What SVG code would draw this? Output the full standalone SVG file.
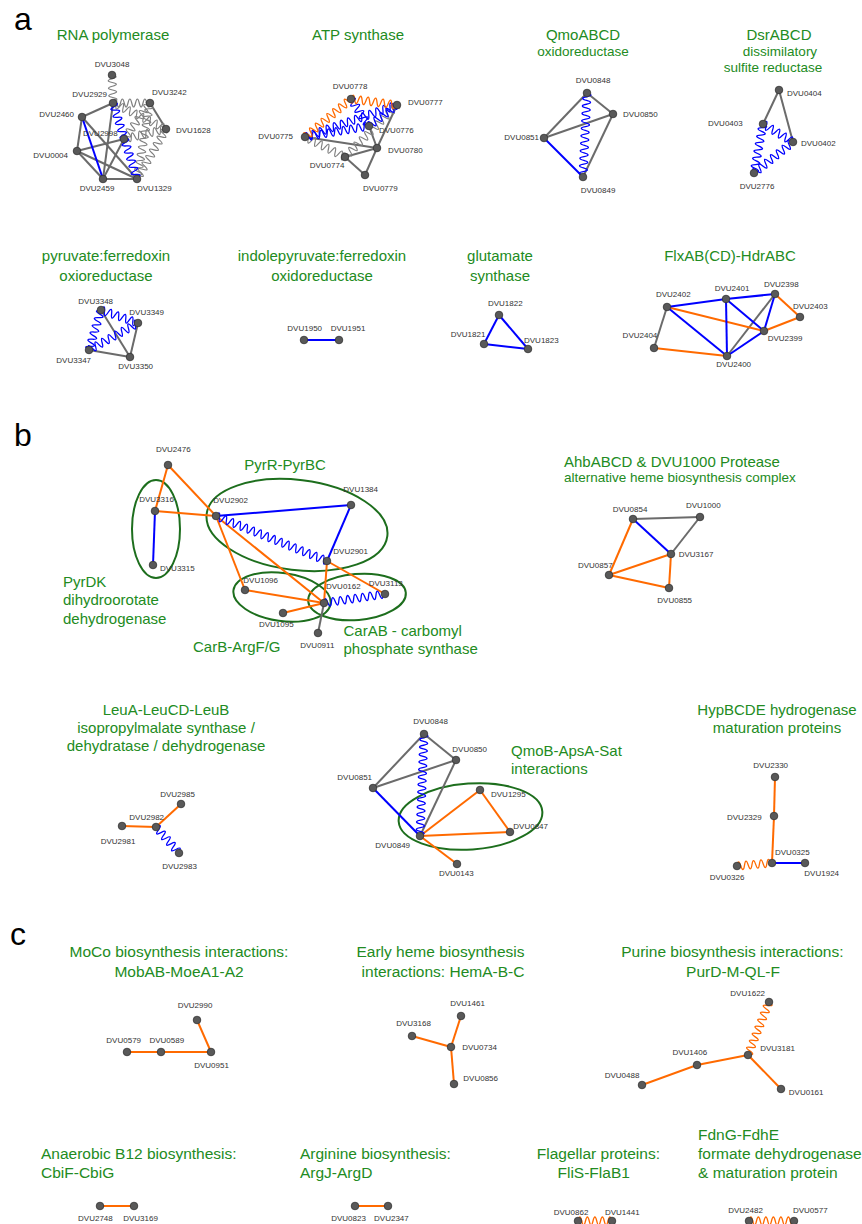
<svg xmlns="http://www.w3.org/2000/svg" width="862" height="1224" viewBox="0 0 862 1224">
<style>
text{font-family:"Liberation Sans",Arial,sans-serif}
.sec{font-size:32px;fill:#000}
.t{font-size:15px;fill:#228b22}
.ts{font-size:13.5px}
.tc{font-size:15.5px}
.l{font-size:8px;fill:#333}
.m{text-anchor:middle}
.e{text-anchor:end}
.n circle{fill:#595959;stroke:#333;stroke-width:0.8}
.eg{stroke:#6b6b6b;stroke-width:2}
.eb{stroke:#0000ff;stroke-width:2}
.eo{stroke:#ff6a00;stroke-width:2}
.wg{stroke:#808080;stroke-width:1.2;fill:none}
.wb{stroke:#0000ff;stroke-width:1.3;fill:none}
.wo{stroke:#ff6a00;stroke-width:1.3;fill:none}
.el{fill:none;stroke:#1d6e1d;stroke-width:2}
</style>
<defs>
<path id="w7" fill="none" d="M0,0q1.875,-8 3.75,0t3.75,0t3.75,0t3.75,0t3.75,0t3.75,0t3.75,0"/>
<path id="w9" fill="none" d="M0,0q1.875,-8 3.75,0t3.75,0t3.75,0t3.75,0t3.75,0t3.75,0t3.75,0t3.75,0t3.75,0"/>
<path id="w10" fill="none" d="M0,0q1.875,-8 3.75,0t3.75,0t3.75,0t3.75,0t3.75,0t3.75,0t3.75,0t3.75,0t3.75,0t3.75,0"/>
<path id="w11" fill="none" d="M0,0q1.875,-8 3.75,0t3.75,0t3.75,0t3.75,0t3.75,0t3.75,0t3.75,0t3.75,0t3.75,0t3.75,0t3.75,0"/>
<path id="w12" fill="none" d="M0,0q1.875,-8 3.75,0t3.75,0t3.75,0t3.75,0t3.75,0t3.75,0t3.75,0t3.75,0t3.75,0t3.75,0t3.75,0t3.75,0"/>
<path id="w13" fill="none" d="M0,0q1.875,-8 3.75,0t3.75,0t3.75,0t3.75,0t3.75,0t3.75,0t3.75,0t3.75,0t3.75,0t3.75,0t3.75,0t3.75,0t3.75,0"/>
<path id="w15" fill="none" d="M0,0q1.875,-8 3.75,0t3.75,0t3.75,0t3.75,0t3.75,0t3.75,0t3.75,0t3.75,0t3.75,0t3.75,0t3.75,0t3.75,0t3.75,0t3.75,0t3.75,0"/>
<path id="w16" fill="none" d="M0,0q1.875,-8 3.75,0t3.75,0t3.75,0t3.75,0t3.75,0t3.75,0t3.75,0t3.75,0t3.75,0t3.75,0t3.75,0t3.75,0t3.75,0t3.75,0t3.75,0t3.75,0"/>
<path id="w17" fill="none" d="M0,0q1.875,-8 3.75,0t3.75,0t3.75,0t3.75,0t3.75,0t3.75,0t3.75,0t3.75,0t3.75,0t3.75,0t3.75,0t3.75,0t3.75,0t3.75,0t3.75,0t3.75,0t3.75,0"/>
<path id="w20" fill="none" d="M0,0q1.875,-8 3.75,0t3.75,0t3.75,0t3.75,0t3.75,0t3.75,0t3.75,0t3.75,0t3.75,0t3.75,0t3.75,0t3.75,0t3.75,0t3.75,0t3.75,0t3.75,0t3.75,0t3.75,0t3.75,0t3.75,0"/>
<path id="w21" fill="none" d="M0,0q1.875,-8 3.75,0t3.75,0t3.75,0t3.75,0t3.75,0t3.75,0t3.75,0t3.75,0t3.75,0t3.75,0t3.75,0t3.75,0t3.75,0t3.75,0t3.75,0t3.75,0t3.75,0t3.75,0t3.75,0t3.75,0t3.75,0"/>
<path id="w22" fill="none" d="M0,0q1.875,-8 3.75,0t3.75,0t3.75,0t3.75,0t3.75,0t3.75,0t3.75,0t3.75,0t3.75,0t3.75,0t3.75,0t3.75,0t3.75,0t3.75,0t3.75,0t3.75,0t3.75,0t3.75,0t3.75,0t3.75,0t3.75,0t3.75,0"/>
<path id="w26" fill="none" d="M0,0q1.875,-8 3.75,0t3.75,0t3.75,0t3.75,0t3.75,0t3.75,0t3.75,0t3.75,0t3.75,0t3.75,0t3.75,0t3.75,0t3.75,0t3.75,0t3.75,0t3.75,0t3.75,0t3.75,0t3.75,0t3.75,0t3.75,0t3.75,0t3.75,0t3.75,0t3.75,0t3.75,0"/>
<path id="w27" fill="none" d="M0,0q1.875,-8 3.75,0t3.75,0t3.75,0t3.75,0t3.75,0t3.75,0t3.75,0t3.75,0t3.75,0t3.75,0t3.75,0t3.75,0t3.75,0t3.75,0t3.75,0t3.75,0t3.75,0t3.75,0t3.75,0t3.75,0t3.75,0t3.75,0t3.75,0t3.75,0t3.75,0t3.75,0t3.75,0"/>
<path id="w32" fill="none" d="M0,0q1.875,-8 3.75,0t3.75,0t3.75,0t3.75,0t3.75,0t3.75,0t3.75,0t3.75,0t3.75,0t3.75,0t3.75,0t3.75,0t3.75,0t3.75,0t3.75,0t3.75,0t3.75,0t3.75,0t3.75,0t3.75,0t3.75,0t3.75,0t3.75,0t3.75,0t3.75,0t3.75,0t3.75,0t3.75,0t3.75,0t3.75,0t3.75,0t3.75,0"/>
</defs>
<rect width="862" height="1224" fill="#fff"/>

<g id="titles">
<text class="sec" x="14" y="30">a</text>
<text class="sec" x="14" y="446">b</text>
<text class="sec" x="10" y="945">c</text>
<text class="t m" x="113" y="39.5">RNA polymerase</text>
<text class="t m" x="358" y="39.5">ATP synthase</text>
<text class="t m" x="583" y="39.5">QmoABCD</text>
<text class="t ts m" x="583" y="56">oxidoreductase</text>
<text class="t m" x="779" y="39.5">DsrABCD</text>
<text class="t ts m" x="780" y="56">dissimilatory</text>
<text class="t ts m" x="773" y="72">sulfite reductase</text>
<text class="t m" x="106" y="261">pyruvate:ferredoxin</text>
<text class="t m" x="106" y="280.5">oxioreductase</text>
<text class="t m" x="322" y="261">indolepyruvate:ferredoxin</text>
<text class="t m" x="322" y="280.5">oxidoreductase</text>
<text class="t m" x="500" y="261">glutamate</text>
<text class="t m" x="500" y="280.5">synthase</text>
<text class="t m" x="730" y="261">FlxAB(CD)-HdrABC</text>
<text class="t m" x="285" y="469.5">PyrR-PyrBC</text>
<text class="t" x="63" y="586.5">PyrDK</text>
<text class="t" x="63" y="605">dihydroorotate</text>
<text class="t" x="63" y="623.5">dehydrogenase</text>
<text class="t" x="193" y="651.5">CarB-ArgF/G</text>
<text class="t" x="343.5" y="636">CarAB - carbomyl</text>
<text class="t" x="343.5" y="654">phosphate synthase</text>
<text class="t" x="564" y="466.5">AhbABCD &amp; DVU1000 Protease</text>
<text class="t ts" x="564" y="482">alternative heme biosynthesis complex</text>
<text class="t m" x="166" y="715">LeuA-LeuCD-LeuB</text>
<text class="t m" x="166" y="732.5">isopropylmalate synthase /</text>
<text class="t m" x="166" y="750.5">dehydratase / dehydrogenase</text>
<text class="t" x="511" y="756">QmoB-ApsA-Sat</text>
<text class="t" x="511" y="773.5">interactions</text>
<text class="t m" x="777" y="715">HypBCDE hydrogenase</text>
<text class="t m" x="777" y="732.5">maturation proteins</text>
<text class="t tc m" x="179" y="957">MoCo biosynthesis interactions:</text>
<text class="t tc m" x="179" y="976.5">MobAB-MoeA1-A2</text>
<text class="t tc m" x="440.5" y="957">Early heme biosynthesis</text>
<text class="t tc m" x="443" y="976.5">interactions: HemA-B-C</text>
<text class="t tc m" x="732.4" y="957">Purine biosynthesis interactions:</text>
<text class="t tc m" x="733" y="976.5">PurD-M-QL-F</text>
<text class="t tc" x="41" y="1159">Anaerobic B12 biosynthesis:</text>
<text class="t tc" x="41" y="1177.5">CbiF-CbiG</text>
<text class="t tc" x="300" y="1159">Arginine biosynthesis:</text>
<text class="t tc" x="300" y="1177.5">ArgJ-ArgD</text>
<text class="t tc m" x="598.4" y="1159">Flagellar proteins:</text>
<text class="t tc m" x="593.7" y="1177.5">FliS-FlaB1</text>
<text class="t tc" x="698" y="1140">FdnG-FdhE</text>
<text class="t tc" x="698" y="1159">formate dehydrogenase</text>
<text class="t tc" x="698" y="1177.5">&amp; maturation protein</text>
</g>

<g id="groupings">
<ellipse class="el" cx="156" cy="529" rx="24" ry="49"/>
<ellipse class="el" cx="297" cy="525" rx="91" ry="45" transform="rotate(7 297 525)"/>
<ellipse class="el" cx="282" cy="597" rx="49" ry="24" transform="rotate(8 282 597)"/>
<ellipse class="el" cx="357" cy="597" rx="49" ry="23" transform="rotate(-5 357 597)"/>
<ellipse class="el" cx="470.5" cy="816.5" rx="72" ry="33" transform="rotate(-4 470.5 816.5)"/>
</g>

<g id="connectors">
<!-- RNA polymerase -->
<line class="eg" x1="113" y1="103" x2="82" y2="117"/>
<line class="eg" x1="113" y1="103" x2="103" y2="179"/>
<line class="eg" x1="82" y1="117" x2="77" y2="151"/>
<line class="eg" x1="82" y1="117" x2="137" y2="179"/>
<line class="eg" x1="77" y1="151" x2="124" y2="139"/>
<line class="eg" x1="77" y1="151" x2="103" y2="179"/>
<line class="eg" x1="77" y1="151" x2="137" y2="179"/>
<line class="eg" x1="124" y1="139" x2="103" y2="179"/>
<line class="eg" x1="103" y1="179" x2="137" y2="179"/>
<line class="eg" x1="150" y1="103" x2="166" y2="129"/>
<line class="eb" x1="82" y1="117" x2="103" y2="179"/>
<use href="#w7" class="wg" transform="translate(112,75) rotate(87.95)"/>
<use href="#w10" class="wg" transform="translate(113,103)"/>
<use href="#w16" class="wg" transform="translate(113,103) rotate(26.13)"/>
<use href="#w12" class="wg" transform="translate(124,139) rotate(-54.16)"/>
<use href="#w12" class="wg" transform="translate(124,139) rotate(-13.39)"/>
<use href="#w21" class="wg" transform="translate(137,179) rotate(-80.29)"/>
<use href="#w15" class="wg" transform="translate(137,179) rotate(-59.89)"/>
<use href="#w21" class="wb" transform="translate(113,103) rotate(72.47)"/>
<!-- ATP synthase -->
<line class="eg" x1="305" y1="137" x2="377" y2="148"/>
<line class="eg" x1="369" y1="126" x2="377" y2="148"/>
<line class="eg" x1="397" y1="105" x2="377" y2="148"/>
<line class="eg" x1="377" y1="148" x2="345" y2="157"/>
<line class="eg" x1="377" y1="148" x2="365" y2="175"/>
<line class="eg" x1="345" y1="157" x2="365" y2="175"/>
<use href="#w12" class="wg" transform="translate(305,137) rotate(26.57)"/>
<use href="#w20" class="wg" transform="translate(345,157) rotate(-45)"/>
<use href="#w26" class="wb" transform="translate(305,137) rotate(-19.18)"/>
<use href="#w17" class="wb" transform="translate(305,137) rotate(-9.75)"/>
<use href="#w9" class="wb" transform="translate(351,99) rotate(56.31)"/>
<use href="#w9" class="wb" transform="translate(369,126) rotate(-36.87)"/>
<use href="#w16" class="wo" transform="translate(305,137) rotate(-39.56)"/>
<use href="#w12" class="wo" transform="translate(351,99) rotate(7.43)"/>
<!-- QmoABCD -->
<line class="eg" x1="587" y1="93" x2="544" y2="138"/>
<line class="eg" x1="587" y1="93" x2="613" y2="114"/>
<line class="eg" x1="544" y1="138" x2="613" y2="114"/>
<line class="eg" x1="613" y1="114" x2="583" y2="177"/>
<line class="eb" x1="544" y1="138" x2="583" y2="177"/>
<use href="#w22" class="wb" transform="translate(587,93) rotate(92.73)"/>
<!-- DsrABCD -->
<line class="eg" x1="779" y1="90" x2="763" y2="124"/>
<line class="eg" x1="779" y1="90" x2="793" y2="142"/>
<use href="#w9" class="wb" transform="translate(763,124) rotate(30.96)"/>
<use href="#w13" class="wb" transform="translate(763,124) rotate(100.41)"/>
<use href="#w13" class="wb" transform="translate(754,173) rotate(-38.48)"/>
<!-- pyruvate:ferredoxin -->
<line class="eg" x1="101" y1="310" x2="130" y2="357"/>
<line class="eg" x1="138" y1="323" x2="130" y2="357"/>
<line class="eg" x1="89" y1="350" x2="130" y2="357"/>
<use href="#w10" class="wb" transform="translate(101,310) rotate(19.36)"/>
<use href="#w11" class="wb" transform="translate(89,350) rotate(-73.3)"/>
<use href="#w15" class="wb" transform="translate(89,350) rotate(-28.86)"/>
<!-- indolepyruvate -->
<line class="eb" x1="304" y1="340" x2="339" y2="340"/>
<!-- glutamate synthase -->
<line class="eb" x1="499" y1="315" x2="484" y2="344"/>
<line class="eb" x1="499" y1="315" x2="528" y2="349"/>
<line class="eb" x1="484" y1="344" x2="528" y2="349"/>
<!-- Flx-Hdr -->
<line class="eg" x1="667" y1="307" x2="654" y2="348"/>
<line class="eg" x1="775" y1="294" x2="727" y2="356"/>
<line class="eo" x1="667" y1="307" x2="764" y2="331"/>
<line class="eo" x1="775" y1="294" x2="800" y2="317"/>
<line class="eo" x1="800" y1="317" x2="764" y2="331"/>
<line class="eo" x1="654" y1="348" x2="727" y2="356"/>
<line class="eb" x1="667" y1="307" x2="726" y2="299"/>
<line class="eb" x1="726" y1="299" x2="775" y2="294"/>
<line class="eb" x1="667" y1="307" x2="727" y2="356"/>
<line class="eb" x1="726" y1="299" x2="727" y2="356"/>
<line class="eb" x1="726" y1="299" x2="764" y2="331"/>
<line class="eb" x1="775" y1="294" x2="764" y2="331"/>
<line class="eb" x1="764" y1="331" x2="727" y2="356"/>
<!-- Pyr / Car -->
<line class="eo" x1="168" y1="465" x2="155" y2="511"/>
<line class="eo" x1="168" y1="465" x2="216" y2="516"/>
<line class="eo" x1="155" y1="511" x2="216" y2="516"/>
<line class="eo" x1="216" y1="516" x2="245" y2="590"/>
<line class="eo" x1="216" y1="516" x2="324" y2="603"/>
<line class="eo" x1="245" y1="590" x2="324" y2="603"/>
<line class="eo" x1="283" y1="613" x2="324" y2="603"/>
<line class="eo" x1="327" y1="561" x2="324" y2="603"/>
<line class="eo" x1="327" y1="561" x2="385" y2="594"/>
<line class="eb" x1="155" y1="511" x2="153" y2="565"/>
<line class="eb" x1="216" y1="516" x2="351" y2="505"/>
<line class="eb" x1="351" y1="505" x2="327" y2="561"/>
<line class="eg" x1="324" y1="603" x2="318" y2="633"/>
<use href="#w32" class="wb" transform="translate(216,516) rotate(22.07)"/>
<use href="#w16" class="wb" transform="translate(324,603) rotate(-8.39)"/>
<!-- Ahb -->
<line class="eg" x1="633" y1="519" x2="700" y2="517"/>
<line class="eg" x1="700" y1="517" x2="671" y2="554"/>
<line class="eb" x1="633" y1="519" x2="671" y2="554"/>
<line class="eo" x1="633" y1="519" x2="609" y2="575"/>
<line class="eo" x1="609" y1="575" x2="671" y2="554"/>
<line class="eo" x1="609" y1="575" x2="669" y2="588"/>
<line class="eo" x1="671" y1="554" x2="669" y2="588"/>
<!-- Leu -->
<line class="eo" x1="156" y1="827" x2="181" y2="804"/>
<line class="eo" x1="122" y1="826" x2="156" y2="827"/>
<use href="#w9" class="wb" transform="translate(156,827) rotate(48.5)"/>
<!-- QmoB-ApsA-Sat -->
<line class="eg" x1="424" y1="734" x2="373" y2="788"/>
<line class="eg" x1="424" y1="734" x2="456" y2="760"/>
<line class="eg" x1="373" y1="788" x2="456" y2="760"/>
<line class="eg" x1="456" y1="760" x2="420" y2="836"/>
<line class="eb" x1="373" y1="788" x2="420" y2="836"/>
<line class="eo" x1="420" y1="836" x2="480" y2="790"/>
<line class="eo" x1="480" y1="790" x2="510" y2="832"/>
<line class="eo" x1="420" y1="836" x2="510" y2="832"/>
<line class="eo" x1="420" y1="836" x2="457" y2="864"/>
<use href="#w27" class="wb" transform="translate(424,734) rotate(92.25)"/>
<!-- Hyp -->
<line class="eo" x1="775" y1="777" x2="774" y2="816"/>
<line class="eo" x1="774" y1="816" x2="772" y2="863"/>
<line class="eb" x1="772" y1="863" x2="805" y2="863"/>
<use href="#w9" class="wo" transform="translate(737,866) rotate(-4.9)"/>
<!-- MoCo -->
<line class="eo" x1="127" y1="1052" x2="161" y2="1052" stroke-width="2.5"/>
<line class="eo" x1="161" y1="1052" x2="211" y2="1052" stroke-width="2.5"/>
<line class="eo" x1="197" y1="1020" x2="211" y2="1052"/>
<!-- Heme -->
<line class="eo" x1="461" y1="1016" x2="451" y2="1047"/>
<line class="eo" x1="412" y1="1036" x2="451" y2="1047"/>
<line class="eo" x1="451" y1="1047" x2="454" y2="1084"/>
<!-- Purine -->
<line class="eo" x1="748" y1="1055" x2="697" y2="1065"/>
<line class="eo" x1="697" y1="1065" x2="642" y2="1085"/>
<line class="eo" x1="748" y1="1055" x2="781" y2="1089"/>
<use href="#w15" class="wo" transform="translate(769,1002) rotate(111.6)"/>
<!-- row 2 of c -->
<line class="eo" x1="100" y1="1206" x2="134" y2="1206"/>
<line class="eo" x1="355" y1="1206" x2="388" y2="1206"/>
<use href="#w9" class="wo" transform="translate(578,1221)"/>
<use href="#w12" class="wo" transform="translate(749,1221)"/>
</g>

<g id="nodes">
<g id="rp-DVU3048" class="n"><circle cx="112" cy="75" r="3.8"/><text class="l m" x="112" y="67.3">DVU3048</text></g>
<g id="rp-DVU2929" class="n"><circle cx="113" cy="103" r="3.8"/><text class="l e" x="107" y="96.7">DVU2929</text></g>
<g id="rp-DVU3242" class="n"><circle cx="150" cy="103" r="3.8"/><text class="l" x="152" y="95">DVU3242</text></g>
<g id="rp-DVU2460" class="n"><circle cx="82" cy="117" r="3.8"/><text class="l e" x="74" y="117">DVU2460</text></g>
<g id="rp-DVU1628" class="n"><circle cx="166" cy="129" r="3.8"/><text class="l" x="176" y="132.7">DVU1628</text></g>
<g id="rp-DVU2998" class="n"><circle cx="124" cy="139" r="3.8"/><text class="l" x="83" y="136">DVU2998</text></g>
<g id="rp-DVU0004" class="n"><circle cx="77" cy="151" r="3.8"/><text class="l e" x="68" y="158">DVU0004</text></g>
<g id="rp-DVU2459" class="n"><circle cx="103" cy="179" r="3.8"/><text class="l m" x="97" y="190.5">DVU2459</text></g>
<g id="rp-DVU1329" class="n"><circle cx="137" cy="179" r="3.8"/><text class="l" x="137" y="190.5">DVU1329</text></g>

<g id="atp-DVU0778" class="n"><circle cx="351" cy="99" r="3.8"/><text class="l m" x="350" y="89">DVU0778</text></g>
<g id="atp-DVU0777" class="n"><circle cx="397" cy="105" r="3.8"/><text class="l" x="408" y="104.7">DVU0777</text></g>
<g id="atp-DVU0776" class="n"><circle cx="369" cy="126" r="3.8"/><text class="l" x="379" y="133">DVU0776</text></g>
<g id="atp-DVU0775" class="n"><circle cx="305" cy="137" r="3.8"/><text class="l e" x="293" y="139">DVU0775</text></g>
<g id="atp-DVU0780" class="n"><circle cx="377" cy="148" r="3.8"/><text class="l" x="388" y="152.7">DVU0780</text></g>
<g id="atp-DVU0774" class="n"><circle cx="345" cy="157" r="3.8"/><text class="l m" x="327" y="167.7">DVU0774</text></g>
<g id="atp-DVU0779" class="n"><circle cx="365" cy="175" r="3.8"/><text class="l" x="363" y="191">DVU0779</text></g>

<g id="qmo-DVU0848" class="n"><circle cx="587" cy="93" r="3.8"/><text class="l m" x="593" y="82.7">DVU0848</text></g>
<g id="qmo-DVU0850" class="n"><circle cx="613" cy="114" r="3.8"/><text class="l" x="623" y="116.7">DVU0850</text></g>
<g id="qmo-DVU0851" class="n"><circle cx="544" cy="138" r="3.8"/><text class="l e" x="539" y="140">DVU0851</text></g>
<g id="qmo-DVU0849" class="n"><circle cx="583" cy="177" r="3.8"/><text class="l m" x="598" y="193.3">DVU0849</text></g>

<g id="dsr-DVU0404" class="n"><circle cx="779" cy="90" r="3.8"/><text class="l" x="787" y="96">DVU0404</text></g>
<g id="dsr-DVU0403" class="n"><circle cx="763" cy="124" r="3.8"/><text class="l e" x="742.7" y="125.7">DVU0403</text></g>
<g id="dsr-DVU0402" class="n"><circle cx="793" cy="142" r="3.8"/><text class="l" x="801" y="145.7">DVU0402</text></g>
<g id="dsr-DVU2776" class="n"><circle cx="754" cy="173" r="3.8"/><text class="l m" x="757" y="189.3">DVU2776</text></g>

<g id="pfo-DVU3348" class="n"><circle cx="101" cy="310" r="3.8"/><text class="l m" x="95.7" y="303.7">DVU3348</text></g>
<g id="pfo-DVU3349" class="n"><circle cx="138" cy="323" r="3.8"/><text class="l" x="129.3" y="314.7">DVU3349</text></g>
<g id="pfo-DVU3347" class="n"><circle cx="89" cy="350" r="3.8"/><text class="l m" x="73.7" y="362.7">DVU3347</text></g>
<g id="pfo-DVU3350" class="n"><circle cx="130" cy="357" r="3.8"/><text class="l m" x="135.7" y="369.3">DVU3350</text></g>

<g id="ior-DVU1950" class="n"><circle cx="304" cy="340" r="3.8"/><text class="l m" x="304.7" y="331.3">DVU1950</text></g>
<g id="ior-DVU1951" class="n"><circle cx="339" cy="340" r="3.8"/><text class="l m" x="348" y="331.3">DVU1951</text></g>

<g id="glt-DVU1822" class="n"><circle cx="499" cy="315" r="3.8"/><text class="l m" x="505.3" y="305.7">DVU1822</text></g>
<g id="glt-DVU1821" class="n"><circle cx="484" cy="344" r="3.8"/><text class="l m" x="468" y="337.3">DVU1821</text></g>
<g id="glt-DVU1823" class="n"><circle cx="528" cy="349" r="3.8"/><text class="l" x="524" y="342.7">DVU1823</text></g>

<g id="flx-DVU2402" class="n"><circle cx="667" cy="307" r="3.8"/><text class="l m" x="673.3" y="297.3">DVU2402</text></g>
<g id="flx-DVU2401" class="n"><circle cx="726" cy="299" r="3.8"/><text class="l m" x="732" y="291">DVU2401</text></g>
<g id="flx-DVU2398" class="n"><circle cx="775" cy="294" r="3.8"/><text class="l m" x="781.3" y="287">DVU2398</text></g>
<g id="flx-DVU2403" class="n"><circle cx="800" cy="317" r="3.8"/><text class="l m" x="810.3" y="309">DVU2403</text></g>
<g id="flx-DVU2399" class="n"><circle cx="764" cy="331" r="3.8"/><text class="l" x="767.7" y="341">DVU2399</text></g>
<g id="flx-DVU2404" class="n"><circle cx="654" cy="348" r="3.8"/><text class="l e" x="657.3" y="338">DVU2404</text></g>
<g id="flx-DVU2400" class="n"><circle cx="727" cy="356" r="3.8"/><text class="l m" x="733.7" y="367.3">DVU2400</text></g>

<g id="pyr-DVU2476" class="n"><circle cx="168" cy="465" r="3.8"/><text class="l m" x="173.3" y="452">DVU2476</text></g>
<g id="pyr-DVU3316" class="n"><circle cx="155" cy="511" r="3.8"/><text class="l m" x="156.5" y="502">DVU3316</text></g>
<g id="pyr-DVU3315" class="n"><circle cx="153" cy="565" r="3.8"/><text class="l" x="160" y="571.3">DVU3315</text></g>
<g id="pyr-DVU2902" class="n"><circle cx="216" cy="516" r="3.8"/><text class="l" x="213.3" y="503">DVU2902</text></g>
<g id="pyr-DVU1384" class="n"><circle cx="351" cy="505" r="3.8"/><text class="l" x="343.3" y="492">DVU1384</text></g>
<g id="pyr-DVU2901" class="n"><circle cx="327" cy="561" r="3.8"/><text class="l" x="333.3" y="553.7">DVU2901</text></g>
<g id="pyr-DVU1096" class="n"><circle cx="245" cy="590" r="3.8"/><text class="l" x="243.3" y="583.3">DVU1096</text></g>
<g id="pyr-DVU0162" class="n"><circle cx="324" cy="603" r="3.8"/><text class="l" x="326" y="589.3">DVU0162</text></g>
<g id="pyr-DVU3113" class="n"><circle cx="385" cy="594" r="3.8"/><text class="l" x="368.7" y="586">DVU3113</text></g>
<g id="pyr-DVU1095" class="n"><circle cx="283" cy="613" r="3.8"/><text class="l m" x="276.3" y="626.7">DVU1095</text></g>
<g id="pyr-DVU0911" class="n"><circle cx="318" cy="633" r="3.8"/><text class="l m" x="317.3" y="647.7">DVU0911</text></g>

<g id="ahb-DVU0854" class="n"><circle cx="633" cy="519" r="3.8"/><text class="l m" x="630" y="512">DVU0854</text></g>
<g id="ahb-DVU1000" class="n"><circle cx="700" cy="517" r="3.8"/><text class="l m" x="703.3" y="508">DVU1000</text></g>
<g id="ahb-DVU3167" class="n"><circle cx="671" cy="554" r="3.8"/><text class="l" x="678.7" y="557.3">DVU3167</text></g>
<g id="ahb-DVU0857" class="n"><circle cx="609" cy="575" r="3.8"/><text class="l m" x="595.3" y="568">DVU0857</text></g>
<g id="ahb-DVU0855" class="n"><circle cx="669" cy="588" r="3.8"/><text class="l m" x="674.7" y="603.3">DVU0855</text></g>

<g id="leu-DVU2985" class="n"><circle cx="181" cy="804" r="3.8"/><text class="l m" x="177.5" y="797">DVU2985</text></g>
<g id="leu-DVU2982" class="n"><circle cx="156" cy="827" r="3.8"/><text class="l m" x="146.7" y="819.7">DVU2982</text></g>
<g id="leu-DVU2981" class="n"><circle cx="122" cy="826" r="3.8"/><text class="l m" x="118" y="844">DVU2981</text></g>
<g id="leu-DVU2983" class="n"><circle cx="179" cy="853" r="3.8"/><text class="l m" x="179.5" y="868.7">DVU2983</text></g>

<g id="qas-DVU0848" class="n"><circle cx="424" cy="734" r="3.8"/><text class="l m" x="430.5" y="724.3">DVU0848</text></g>
<g id="qas-DVU0850" class="n"><circle cx="456" cy="760" r="3.8"/><text class="l" x="452.3" y="752">DVU0850</text></g>
<g id="qas-DVU0851" class="n"><circle cx="373" cy="788" r="3.8"/><text class="l m" x="354.7" y="780">DVU0851</text></g>
<g id="qas-DVU1295" class="n"><circle cx="480" cy="790" r="3.8"/><text class="l" x="491" y="797">DVU1295</text></g>
<g id="qas-DVU0847" class="n"><circle cx="510" cy="832" r="3.8"/><text class="l" x="513.3" y="828.7">DVU0847</text></g>
<g id="qas-DVU0849" class="n"><circle cx="420" cy="836" r="3.8"/><text class="l m" x="392.7" y="847.7">DVU0849</text></g>
<g id="qas-DVU0143" class="n"><circle cx="457" cy="864" r="3.8"/><text class="l m" x="456.3" y="876">DVU0143</text></g>

<g id="hyp-DVU2330" class="n"><circle cx="775" cy="777" r="3.8"/><text class="l m" x="770.7" y="767.7">DVU2330</text></g>
<g id="hyp-DVU2329" class="n"><circle cx="774" cy="816" r="3.8"/><text class="l e" x="761.7" y="820.3">DVU2329</text></g>
<g id="hyp-DVU0325" class="n"><circle cx="772" cy="863" r="3.8"/><text class="l" x="775" y="855.3">DVU0325</text></g>
<g id="hyp-DVU0326" class="n"><circle cx="737" cy="866" r="3.8"/><text class="l m" x="727" y="880.3">DVU0326</text></g>
<g id="hyp-DVU1924" class="n"><circle cx="805" cy="863" r="3.8"/><text class="l m" x="821.7" y="876.3">DVU1924</text></g>

<g id="moco-DVU2990" class="n"><circle cx="197" cy="1020" r="3.8"/><text class="l m" x="195" y="1008">DVU2990</text></g>
<g id="moco-DVU0579" class="n"><circle cx="127" cy="1052" r="3.8"/><text class="l m" x="123.7" y="1043.3">DVU0579</text></g>
<g id="moco-DVU0589" class="n"><circle cx="161" cy="1052" r="3.8"/><text class="l m" x="166.8" y="1043.3">DVU0589</text></g>
<g id="moco-DVU0951" class="n"><circle cx="211" cy="1052" r="3.8"/><text class="l m" x="211.5" y="1068">DVU0951</text></g>

<g id="hem-DVU1461" class="n"><circle cx="461" cy="1016" r="3.8"/><text class="l m" x="467.5" y="1006.3">DVU1461</text></g>
<g id="hem-DVU3168" class="n"><circle cx="412" cy="1036" r="3.8"/><text class="l m" x="413.5" y="1026.3">DVU3168</text></g>
<g id="hem-DVU0734" class="n"><circle cx="451" cy="1047" r="3.8"/><text class="l" x="462.2" y="1049.7">DVU0734</text></g>
<g id="hem-DVU0856" class="n"><circle cx="454" cy="1084" r="3.8"/><text class="l" x="463.3" y="1080.7">DVU0856</text></g>

<g id="pur-DVU1622" class="n"><circle cx="769" cy="1002" r="3.8"/><text class="l m" x="747.7" y="996">DVU1622</text></g>
<g id="pur-DVU3181" class="n"><circle cx="748" cy="1055" r="3.8"/><text class="l" x="760.2" y="1051.3">DVU3181</text></g>
<g id="pur-DVU1406" class="n"><circle cx="697" cy="1065" r="3.8"/><text class="l m" x="689.8" y="1055.3">DVU1406</text></g>
<g id="pur-DVU0488" class="n"><circle cx="642" cy="1085" r="3.8"/><text class="l m" x="622" y="1078">DVU0488</text></g>
<g id="pur-DVU0161" class="n"><circle cx="781" cy="1089" r="3.8"/><text class="l" x="788.8" y="1094.7">DVU0161</text></g>

<g id="b12-DVU2748" class="n"><circle cx="100" cy="1206" r="3.8"/><text class="l m" x="95.4" y="1220.7">DVU2748</text></g>
<g id="b12-DVU3169" class="n"><circle cx="134" cy="1206" r="3.8"/><text class="l m" x="140.5" y="1220.7">DVU3169</text></g>
<g id="arg-DVU0823" class="n"><circle cx="355" cy="1206" r="3.8"/><text class="l m" x="348.5" y="1220.7">DVU0823</text></g>
<g id="arg-DVU2347" class="n"><circle cx="388" cy="1206" r="3.8"/><text class="l m" x="391.4" y="1220.7">DVU2347</text></g>
<g id="fla-DVU0862" class="n"><circle cx="578" cy="1221" r="3.8"/><text class="l m" x="571" y="1214.7">DVU0862</text></g>
<g id="fla-DVU1441" class="n"><circle cx="612" cy="1221" r="3.8"/><text class="l m" x="622.3" y="1214.7">DVU1441</text></g>
<g id="fdn-DVU2482" class="n"><circle cx="749" cy="1221" r="3.8"/><text class="l m" x="745.5" y="1212.7">DVU2482</text></g>
<g id="fdn-DVU0577" class="n"><circle cx="794" cy="1221" r="3.8"/><text class="l m" x="810.3" y="1212.7">DVU0577</text></g>
</g>
</svg>
